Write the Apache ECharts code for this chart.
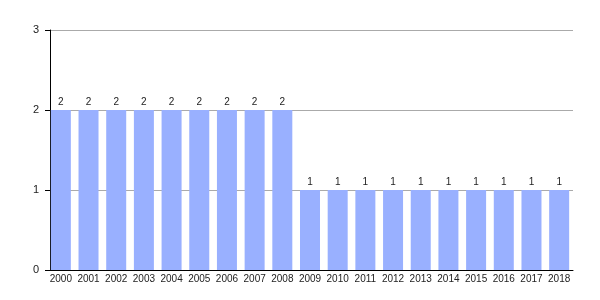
<!DOCTYPE html>
<html><head><meta charset="utf-8">
<script src="https://cdn.jsdelivr.net/npm/echarts@6/dist/echarts.min.js"></script>
<style>html,body{margin:0;padding:0;background:#fff}#c{width:600px;height:300px}</style>
</head><body><div id="c"></div>
<script>
const categories = ['2000','2001','2002','2003','2004','2005','2006','2007','2008','2009','2010','2011','2012','2013','2014','2015','2016','2017','2018'];
const values = [2,2,2,2,2,2,2,2,2,1,1,1,1,1,1,1,1,1,1];
const yTicks = [0,1,2,3];
const chart = echarts.init(document.getElementById('c'), null, {renderer:'canvas'});
chart.setOption({
  animation:false,
  grid:{left:47, top:30, width:526, height:240, containLabel:false},
  xAxis:{type:'category', data:categories,
    axisLine:{lineStyle:{color:'#000', width:1}},
    axisTick:{show:false},
    axisLabel:{color:'#222', fontSize:10, fontFamily:'Liberation Sans, Arial', margin:4, interval:0}
  },
  yAxis:{type:'value', min:yTicks[0], max:yTicks[yTicks.length-1], interval:1, offset:-3,
    axisLine:{show:true, lineStyle:{color:'#000'}},
    axisTick:{show:true, length:5, lineStyle:{color:'#000'}},
    axisLabel:{color:'#222', fontSize:11, fontFamily:'Liberation Sans, Arial', margin:11},
    splitLine:{lineStyle:{color:'#aaa'}}
  },
  series:[{type:'bar', data:values, barWidth:20, itemStyle:{color:'#99b0ff'},
    label:{show:true, position:'top', color:'#222', fontSize:10, fontFamily:'Liberation Sans, Arial', distance:3}}]
});
</script></body></html>
